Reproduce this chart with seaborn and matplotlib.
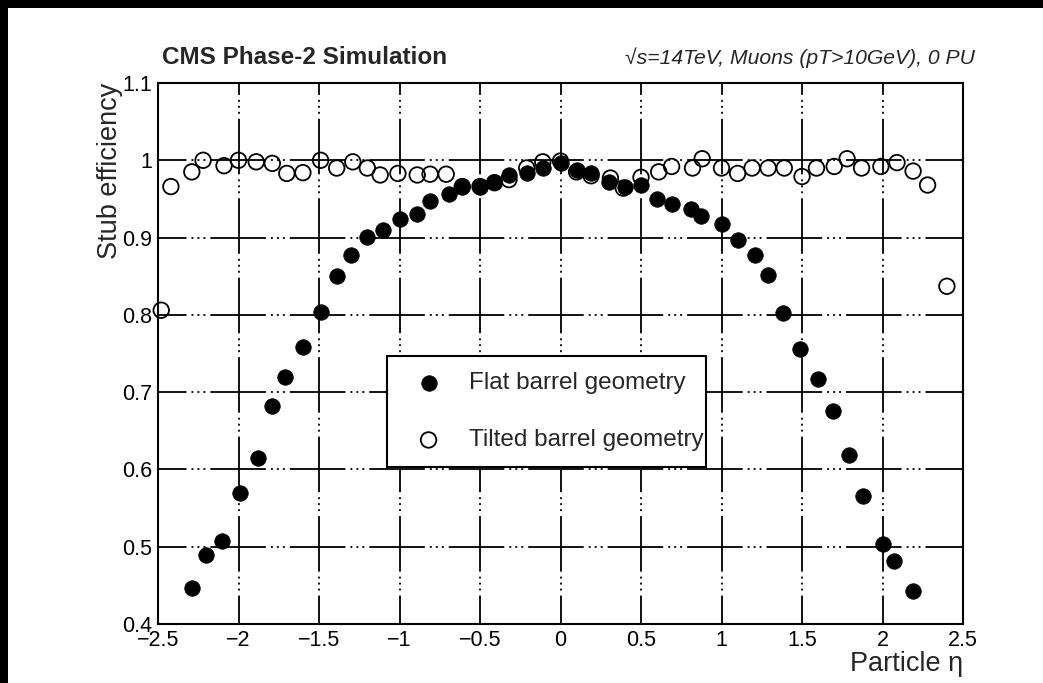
import numpy as np
import pandas as pd
import matplotlib
matplotlib.use("Agg")
import matplotlib.pyplot as plt
import seaborn as sns
from matplotlib.ticker import MultipleLocator, FixedLocator, FixedFormatter
from matplotlib.patches import Rectangle

# ---------------- data ----------------
flat_eta = [-2.29, -2.20, -2.10, -1.99, -1.88, -1.79, -1.71, -1.60, -1.49, -1.39,
            -1.30, -1.20, -1.10, -1.00, -0.89, -0.81, -0.69, -0.61, -0.50, -0.41,
            -0.32, -0.21, -0.11, 0.00, 0.10, 0.19, 0.30, 0.40, 0.50, 0.60,
            0.69, 0.81, 0.875, 1.00, 1.10, 1.21, 1.29, 1.38, 1.49, 1.60,
            1.69, 1.79, 1.88, 2.00, 2.07, 2.19]
flat_eff = [0.447, 0.489, 0.507, 0.569, 0.615, 0.682, 0.720, 0.758, 0.804, 0.850,
            0.877, 0.901, 0.910, 0.924, 0.931, 0.947, 0.956, 0.965, 0.965, 0.972,
            0.981, 0.983, 0.990, 0.997, 0.988, 0.983, 0.972, 0.965, 0.968, 0.950,
            0.944, 0.937, 0.928, 0.917, 0.897, 0.877, 0.852, 0.802, 0.756, 0.717,
            0.675, 0.619, 0.566, 0.504, 0.481, 0.443]

tilted_eta = [-2.48, -2.42, -2.29, -2.22, -2.09, -2.00, -1.89, -1.79, -1.70, -1.60,
              -1.49, -1.39, -1.29, -1.20, -1.12, -1.01, -0.89, -0.81, -0.71, -0.61,
              -0.50, -0.41, -0.32, -0.21, -0.11, 0.00, 0.10, 0.19, 0.31, 0.39,
              0.50, 0.61, 0.69, 0.82, 0.88, 1.00, 1.10, 1.19, 1.29, 1.39,
              1.50, 1.59, 1.70, 1.78, 1.87, 1.99, 2.09, 2.19, 2.28, 2.40]
tilted_eff = [0.806, 0.966, 0.985, 1.000, 0.993, 1.000, 0.998, 0.996, 0.983, 0.984,
              1.000, 0.990, 0.998, 0.990, 0.981, 0.983, 0.981, 0.982, 0.982, 0.966,
              0.966, 0.971, 0.975, 0.990, 0.998, 0.999, 0.985, 0.980, 0.977, 0.964,
              0.978, 0.985, 0.992, 0.990, 1.002, 0.990, 0.983, 0.990, 0.990, 0.990,
              0.979, 0.990, 0.992, 1.002, 0.990, 0.992, 0.997, 0.986, 0.968, 0.837]

x_ticks = [-2.5, -2.0, -1.5, -1.0, -0.5, 0.0, 0.5, 1.0, 1.5, 2.0, 2.5]
x_tick_labels = ["\u22122.5", "\u22122", "\u22121.5", "\u22121", "\u22120.5", "0",
                 "0.5", "1", "1.5", "2", "2.5"]
y_ticks = [0.4, 0.5, 0.6, 0.7, 0.8, 0.9, 1.0, 1.1]
y_tick_labels = ["0.4", "0.5", "0.6", "0.7", "0.8", "0.9", "1", "1.1"]

flat_label = "Flat barrel geometry"
tilted_label = "Tilted barrel geometry"
title_left = "CMS Phase-2 Simulation"
title_right = "\u221As=14TeV, Muons (pT>10GeV), 0 PU"
x_label = "Particle \u03b7"
y_label = "Stub efficiency"

# ---------------- style ----------------
sns.set_style("white")
plt.rcParams["font.family"] = ["Liberation Sans", "DejaVu Sans"]
plt.rcParams["lines.scale_dashes"] = False

W, H = 1043, 683
fig = plt.figure(figsize=(W / 100, H / 100), dpi=100, facecolor="black")
# white page inside the black frame
fig.patches.append(Rectangle((8 / W, 0), 1 - 8 / W, 1 - 8 / H, transform=fig.transFigure,
                             facecolor="white", edgecolor="none", zorder=-10))

L, R, T, B = 158, 963, 83, 624
ax = fig.add_axes([L / W, 1 - B / H, (R - L) / W, (B - T) / H])
ax.set_facecolor("white")

df_flat = pd.DataFrame({"eta": flat_eta, "eff": flat_eff})
df_tilt = pd.DataFrame({"eta": tilted_eta, "eff": tilted_eff})

sns.scatterplot(data=df_tilt, x="eta", y="eff", ax=ax, marker="o", s=125,
                color="black", facecolors="none", edgecolor="black", linewidth=1.3,
                label=tilted_label, zorder=3, clip_on=False)
sns.scatterplot(data=df_flat, x="eta", y="eff", ax=ax, marker="o", s=125,
                color="black", edgecolor="black", linewidth=0.5,
                label=flat_label, zorder=4)

ax.set_xlim(-2.5, 2.5)
ax.set_ylim(0.4, 1.1)
ax.xaxis.set_major_locator(FixedLocator(x_ticks))
ax.xaxis.set_major_formatter(FixedFormatter(x_tick_labels))
ax.yaxis.set_major_locator(FixedLocator(y_ticks))
ax.yaxis.set_major_formatter(FixedFormatter(y_tick_labels))
ax.xaxis.set_minor_locator(MultipleLocator(0.1))
ax.yaxis.set_minor_locator(MultipleLocator(0.02))

ax.tick_params(which="both", direction="in", top=False, right=False,
               colors="black", width=1.4, labelsize=15.5, pad=4)
ax.tick_params(which="major", length=15)
ax.tick_params(axis="x", which="minor", length=7)
ax.tick_params(axis="y", which="minor", length=9)

for sp in ax.spines.values():
    sp.set_visible(True)
    sp.set_color("black")
    sp.set_linewidth(1.5)

# long dash + three dots, solid around the grid crossings
dash = (0, (20.5, 3.6, 1.4, 2.9, 1.4, 2.9, 1.4, 3.6, 19.5, 0.01))
ax.grid(True, which="major", color="black", linestyle=dash, linewidth=1.3)
ax.set_axisbelow(True)

ax.set_xlabel(x_label, fontsize=19.5, loc="right")
ax.xaxis.set_label_coords(1.0, -0.05)
ax.set_ylabel(y_label, fontsize=19.5, loc="top")
ax.yaxis.set_label_coords(-0.043, 1.0)

fig.text(162 / W, 1 - 58 / H, title_left, fontsize=17.5, fontweight="bold",
         ha="left", va="center")
fig.text(975 / W, 1 - 58 / H, title_right, fontsize=15.2, fontstyle="italic",
         ha="right", va="center")

handles, labels = ax.get_legend_handles_labels()
order = [labels.index(flat_label), labels.index(tilted_label)]
leg = ax.legend([handles[i] for i in order], [labels[i] for i in order],
                loc="upper left",
                bbox_to_anchor=((387 - L) / (R - L), (B - 356) / (B - T),
                                (706 - 387) / (R - L), 0.0),
                mode="expand", borderaxespad=0, borderpad=0.66,
                handlelength=2.1, handletextpad=0.6, labelspacing=1.45,
                fontsize=17.5, frameon=True, fancybox=False, shadow=False,
                edgecolor="black", facecolor="white", framealpha=1.0,
                markerscale=1.0)
leg.get_frame().set_linewidth(1.5)
leg.set_zorder(10)

fig.savefig("out.png", dpi=100, facecolor=fig.get_facecolor())
